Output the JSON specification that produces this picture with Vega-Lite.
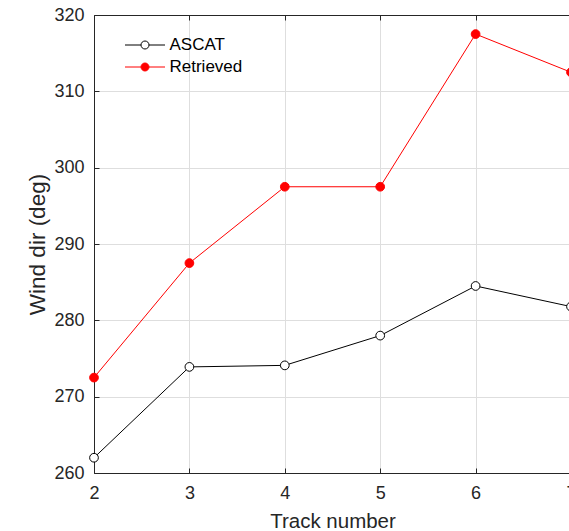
{
  "$schema": "https://vega.github.io/schema/vega-lite/v6.json",
  "width": 477,
  "height": 458,
  "autosize": "none",
  "padding": {"left": 94, "top": 15, "right": 0, "bottom": 58},
  "background": "white",
  "config": {
    "font": "Liberation Sans",
    "view": {"stroke": null},
    "axis": {
      "domainColor": "#262626",
      "domainWidth": 1,
      "tickColor": "#262626",
      "tickSize": -5,
      "labelColor": "#262626",
      "labelFontSize": 18,
      "titleColor": "#262626",
      "titleFontSize": 20.5,
      "titleFontWeight": "normal",
      "gridColor": "#dedede",
      "gridWidth": 1
    }
  },
  "data": {
    "values": [
      {"track": 2, "dir": 262.0, "series": "ASCAT"},
      {"track": 3, "dir": 273.9, "series": "ASCAT"},
      {"track": 4, "dir": 274.1, "series": "ASCAT"},
      {"track": 5, "dir": 278.0, "series": "ASCAT"},
      {"track": 6, "dir": 284.5, "series": "ASCAT"},
      {"track": 7, "dir": 281.8, "series": "ASCAT"},
      {"track": 2, "dir": 272.5, "series": "Retrieved"},
      {"track": 3, "dir": 287.5, "series": "Retrieved"},
      {"track": 4, "dir": 297.5, "series": "Retrieved"},
      {"track": 5, "dir": 297.5, "series": "Retrieved"},
      {"track": 6, "dir": 317.5, "series": "Retrieved"},
      {"track": 7, "dir": 312.5, "series": "Retrieved"}
    ]
  },
  "resolve": {"axis": {"x": "independent"}},
  "layer": [
    {
      "mark": {"type": "line", "strokeWidth": 1, "clip": false},
      "encoding": {
        "x": {
          "field": "track", "type": "quantitative",
          "scale": {"domain": [2, 7], "nice": false, "zero": false},
          "axis": {"values": [2, 3, 4, 5, 6, 7], "title": "Track number", "labelPadding": 16, "titlePadding": 9, "labelFlush": false}
        },
        "y": {
          "field": "dir", "type": "quantitative",
          "scale": {"domain": [260, 320], "nice": false, "zero": false},
          "axis": {"values": [260, 270, 280, 290, 300, 310, 320], "title": "Wind dir (deg)", "titleFontSize": 22.5, "labelPadding": 15, "titlePadding": 4}
        },
        "stroke": {
          "field": "series", "type": "nominal",
          "scale": {"domain": ["ASCAT", "Retrieved"], "range": ["#000000", "#ff0000"]},
          "legend": {
            "title": null, "orient": "none", "legendX": 40.5, "legendY": 19.5,
            "padding": 0, "symbolType": "M-2,0H-0.4M0.4,0H2M-0.4,0A0.4,0.4,0,1,0,0.4,0A0.4,0.4,0,1,0,-0.4,0",
            "symbolSize": 400, "symbolStrokeWidth": 1, "labelFontSize": 17, "labelColor": "#000000",
            "labelOffset": 14, "rowPadding": 3
          }
        }
      }
    },
    {
      "mark": {"type": "point", "filled": true, "size": 76, "strokeWidth": 1, "opacity": 1, "clip": false},
      "encoding": {
        "x": {
          "field": "track", "type": "quantitative",
          "axis": {"orient": "top", "values": [2, 3, 4, 5, 6, 7], "labels": false, "grid": false, "title": null}
        },
        "y": {"field": "dir", "type": "quantitative"},
        "stroke": {
          "field": "series", "type": "nominal",
          "scale": {"domain": ["ASCAT", "Retrieved"], "range": ["#000000", "#ff0000"]},
          "legend": {
            "title": null, "orient": "none", "legendX": 40.5, "legendY": 19.5,
            "padding": 0, "symbolType": "M-2,0H-0.4M0.4,0H2M-0.4,0A0.4,0.4,0,1,0,0.4,0A0.4,0.4,0,1,0,-0.4,0",
            "symbolSize": 400, "symbolStrokeWidth": 1, "labelFontSize": 17, "labelColor": "#000000",
            "labelOffset": 14, "rowPadding": 3
          }
        },
        "fill": {
          "field": "series", "type": "nominal",
          "scale": {"domain": ["ASCAT", "Retrieved"], "range": ["#ffffff", "#ff0000"]},
          "legend": {
            "title": null, "orient": "none", "legendX": 40.5, "legendY": 19.5,
            "padding": 0, "symbolType": "M-2,0H-0.4M0.4,0H2M-0.4,0A0.4,0.4,0,1,0,0.4,0A0.4,0.4,0,1,0,-0.4,0",
            "symbolSize": 400, "symbolStrokeWidth": 1, "labelFontSize": 17, "labelColor": "#000000",
            "labelOffset": 14, "rowPadding": 3
          }
        }
      }
    }
  ]
}
